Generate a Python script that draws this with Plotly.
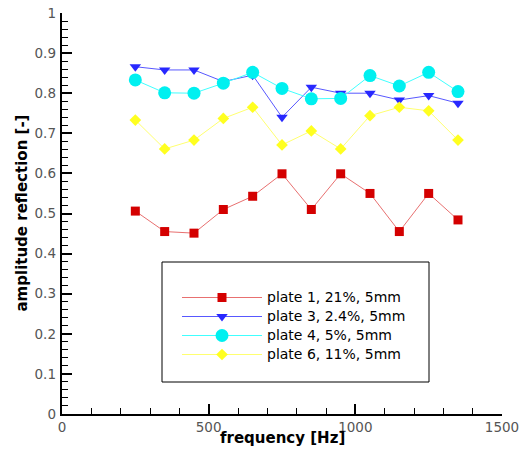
import plotly.graph_objects as go

freq = [250, 350, 450, 550, 650, 750, 850, 950, 1050, 1150, 1250, 1350]
plate1 = [0.506, 0.455, 0.451, 0.510, 0.543, 0.599, 0.510, 0.599, 0.550, 0.455, 0.550, 0.484]
plate3 = [0.866, 0.858, 0.858, 0.829, 0.845, 0.740, 0.815, 0.800, 0.800, 0.783, 0.794, 0.775]
plate4 = [0.833, 0.801, 0.800, 0.825, 0.852, 0.812, 0.786, 0.787, 0.844, 0.818, 0.852, 0.804]
plate6 = [0.733, 0.661, 0.683, 0.737, 0.765, 0.671, 0.706, 0.661, 0.744, 0.765, 0.756, 0.683]
names = ["plate 1, 21%, 5mm", "plate 3, 2.4%, 5mm", "plate 4, 5%, 5mm", "plate 6, 11%, 5mm"]

FONT = "DejaVu Sans, Verdana, sans-serif"

fig = go.Figure()
series = [
    (plate1, names[0], "#d40000", "#e87070", "square", 9),
    (plate3, names[1], "#2828ff", "#5858ff", "triangle-down", 10),
    (plate4, names[2], "#00f0f0", "#40ffff", "circle", 13),
    (plate6, names[3], "#ffff20", "#ffff70", "diamond", 9),
]
for ys, nm, mc, lc, sym, sz in series:
    fig.add_trace(go.Scatter(
        x=freq, y=ys, name='<span style="font-size:14px">' + nm + '</span>',
        mode="lines+markers",
        line=dict(color=lc, width=1),
        marker=dict(symbol=sym, size=sz, color=mc, line=dict(width=0)),
    ))

# empty helper trace so the label-only y axis (y2) gets drawn
fig.add_trace(go.Scatter(x=[None], y=[None], yaxis="y2", showlegend=False,
                         hoverinfo="skip", mode="markers"))

# paper spans pixels x 32..502, y 13..414; x-axis domain starts at pixel 62
PL, PR = 32, 502
def px_x(p):
    return (p - PL) / float(PR - PL)

def px_y(p):
    return (414 - p) / 401.0

tickfont = dict(family=FONT, size=13.5, color="#555555")
titlefont = dict(family=FONT, size=15, color="black", weight="bold")

fig.add_shape(type="rect", xref="paper", yref="paper",
              x0=px_x(162), x1=px_x(429), y0=px_y(382), y1=px_y(262),
              line=dict(color="black", width=1), fillcolor="white", layer="above")

fig.add_annotation(text="frequency [Hz]", xref="paper", yref="paper",
                   x=px_x(282), y=px_y(438), xanchor="center", yanchor="middle",
                   showarrow=False, font=titlefont)
fig.add_annotation(text="amplitude reflection [-]", xref="paper", yref="paper",
                   x=px_x(21) if False else 0, y=0.5, xanchor="center", yanchor="middle",
                   xshift=21 - PL, textangle=-90,
                   showarrow=False, font=titlefont)

minor_y = dict(dtick=0.02, ticks="inside", ticklen=6, tickwidth=1.2, tickcolor="black", showgrid=False)

fig.update_layout(
    width=519, height=455,
    margin=dict(l=PL, r=519 - PR, t=13, b=41),
    plot_bgcolor="white", paper_bgcolor="white",
    showlegend=True,
    legend=dict(
        x=px_x(177), y=px_y(283), xanchor="left", yanchor="top",
        borderwidth=0, bgcolor="rgba(0,0,0,0)",
        font=dict(family=FONT, size=12, color="black"),
        itemwidth=80, tracegroupgap=0,
    ),
    xaxis=dict(
        domain=[px_x(62), 1],
        range=[0, 1500], tickvals=[0, 500, 1000, 1500],
        showgrid=False, zeroline=False, automargin=False,
        showline=True, linecolor="black", linewidth=2,
        ticks="inside", ticklen=10, tickwidth=1.5, tickcolor="black",
        minor=dict(dtick=100, ticks="inside", ticklen=6, tickwidth=1.2, tickcolor="black", showgrid=False),
        tickfont=tickfont, ticklabelstandoff=0, ticklabeloverflow="allow",
    ),
    yaxis=dict(
        range=[0, 1], dtick=0.1,
        showgrid=False, zeroline=False, automargin=False,
        showline=True, linecolor="black", linewidth=2,
        ticks="inside", ticklen=10, tickwidth=1.5, tickcolor="black",
        minor=minor_y, showticklabels=False,
    ),
    yaxis2=dict(
        range=[0, 1], dtick=0.1, overlaying="y", anchor="free", position=px_x(56),
        side="left", showgrid=False, zeroline=False, automargin=False,
        showline=False, ticks="", tickfont=tickfont,
        ticklabelstandoff=0, ticklabeloverflow="allow",
    ),
)

fig.write_html("out.html")
